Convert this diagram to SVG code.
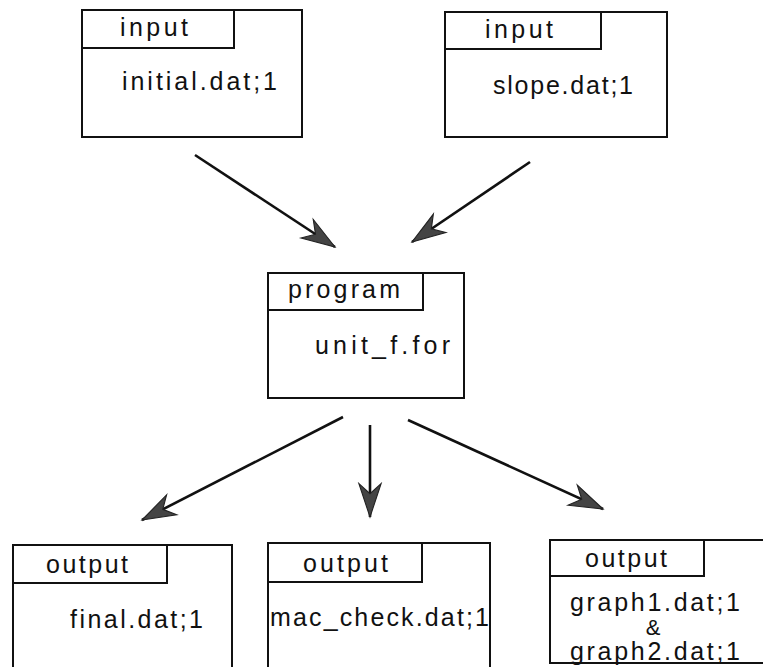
<svg xmlns="http://www.w3.org/2000/svg" width="763" height="667" viewBox="0 0 763 667">
<style>
.box{fill:#fff;stroke:#111;stroke-width:2}
.t{font-family:"Liberation Sans",Arial,sans-serif;font-size:25px;fill:#111}
.s{font-size:22px}
.c{stroke:#111;stroke-width:2.6;fill:none}
</style>
<defs>
<marker id="ah" markerUnits="userSpaceOnUse" markerWidth="40" markerHeight="30" refX="0" refY="0" viewBox="-32 -12 36 24" orient="auto">
<path d="M0,0 L-30,-10 L-21,0 L-30,10 Z" fill="#444" stroke="#222" stroke-width="1"/>
</marker>
</defs>
<rect width="763" height="667" fill="#fff"/>
<g id="connectors">
<line class="c" x1="195" y1="155" x2="335" y2="247" marker-end="url(#ah)"/>
<line class="c" x1="530" y1="162" x2="412" y2="242" marker-end="url(#ah)"/>
<line class="c" x1="343" y1="417" x2="142" y2="520" marker-end="url(#ah)"/>
<line class="c" x1="370" y1="425" x2="370" y2="517" marker-end="url(#ah)"/>
<line class="c" x1="408" y1="420" x2="603" y2="509" marker-end="url(#ah)"/>
</g>
<g id="input1">
<rect class="box" x="82" y="10" width="220" height="127"/>
<rect class="box" x="82" y="10" width="152" height="38"/>
<text class="t" x="120" y="36" textLength="68" lengthAdjust="spacing">input</text>
<text class="t" x="122" y="90" textLength="155" lengthAdjust="spacing">initial.dat;1</text>
</g>
<g id="input2">
<rect class="box" x="445" y="12" width="222" height="125"/>
<rect class="box" x="445" y="12" width="156" height="37"/>
<text class="t" x="485" y="38" textLength="68" lengthAdjust="spacing">input</text>
<text class="t" x="493" y="94" textLength="140" lengthAdjust="spacing">slope.dat;1</text>
</g>
<g id="program">
<rect class="box" x="268" y="273" width="196" height="125"/>
<rect class="box" x="268" y="273" width="155" height="37"/>
<text class="t" x="288" y="298" textLength="112" lengthAdjust="spacing">program</text>
<text class="t" x="315" y="354" textLength="135" lengthAdjust="spacing">unit_f.for</text>
</g>
<g id="output1">
<rect class="box" x="13" y="545" width="219" height="130"/>
<rect class="box" x="13" y="545" width="154" height="38"/>
<text class="t" x="46" y="573" textLength="82" lengthAdjust="spacing">output</text>
<text class="t" x="70" y="628" textLength="133" lengthAdjust="spacing">final.dat;1</text>
</g>
<g id="output2">
<rect class="box" x="268" y="543" width="222" height="130"/>
<rect class="box" x="268" y="543" width="154" height="39"/>
<text class="t" x="303" y="572" textLength="85" lengthAdjust="spacing">output</text>
<text class="t" x="270" y="626" textLength="219" lengthAdjust="spacing">mac_check.dat;1</text>
</g>
<g id="output3">
<rect class="box" x="550" y="540" width="220" height="123"/>
<rect class="box" x="550" y="540" width="154" height="36"/>
<text class="t" x="585" y="567" textLength="82" lengthAdjust="spacing">output</text>
<text class="t" x="570" y="611" textLength="170" lengthAdjust="spacing">graph1.dat;1</text>
<text class="t s" x="653" y="635" text-anchor="middle">&amp;</text>
<text class="t" x="570" y="660" textLength="170" lengthAdjust="spacing">graph2.dat;1</text>
<line x1="550" y1="663" x2="763" y2="663" stroke="#111" stroke-width="2"/>
</g>
</svg>
